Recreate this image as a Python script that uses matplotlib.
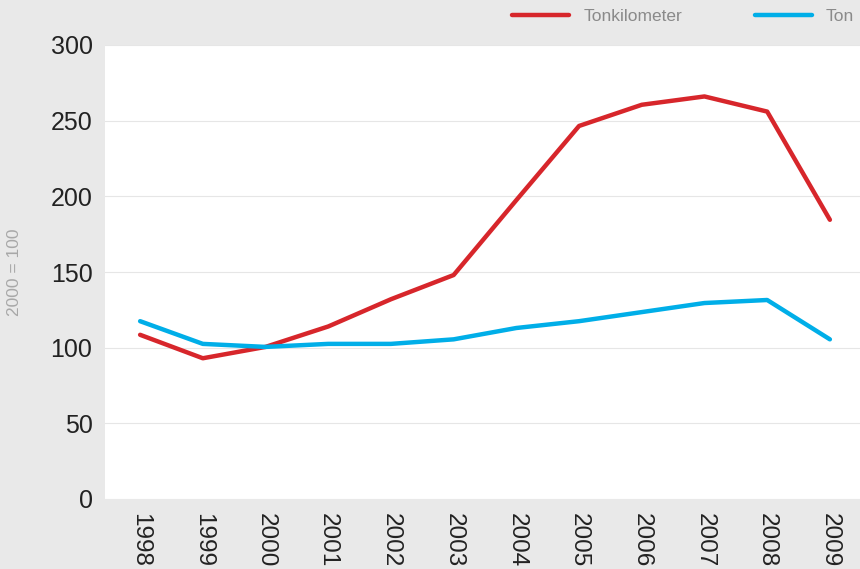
import matplotlib
matplotlib.use("Agg")
import matplotlib.pyplot as plt
import numpy as np

plt.rcParams['font.family'] = ['Liberation Sans', 'DejaVu Sans']

years = ['1998', '1999', '2000', '2001', '2002', '2003', '2004', '2005', '2006', '2007', '2008', '2009']
tonkm = [108.5, 93, 100.5, 114, 132, 148, 197.5, 246.5, 260.5, 266, 256, 184.5]
ton = [117.5, 102.5, 100.5, 102.5, 102.5, 105.5, 113, 117.5, 123.5, 129.5, 131.5, 105.5]

bg = '#e9e9e9'
fig = plt.figure(figsize=(8.6, 5.69), dpi=100, facecolor=bg)
ax = fig.add_axes([105/860, 1-499/569, 760/860, 454/569])
ax.set_facecolor('white')

x = np.arange(len(years))
l1, = ax.plot(x, tonkm, color='#d7262b', lw=3.2, solid_capstyle='round', label='Tonkilometer')
l2, = ax.plot(x, ton, color='#00aee8', lw=3.2, solid_capstyle='round', label='Ton')

ax.set_ylim(0, 300)
ax.set_xlim(-0.56, 11.56)
ax.set_yticks(range(0, 301, 50))
ax.set_xticks(x)
ax.set_xticklabels(years, rotation=-90, fontsize=17.5, color='#222222')
ax.tick_params(axis='y', labelsize=18, colors='#222222', length=0, pad=9)
ax.tick_params(axis='x', length=0, pad=10)
ax.grid(axis='y', color='#e6e6e6', lw=0.8)
ax.set_axisbelow(True)
for s in ax.spines.values():
    s.set_visible(False)

fig.text(15/860, 1-272/569, '2000 = 100', rotation=90, va='center', ha='center',
         fontsize=12.5, color='#a8a8a8')

leg = fig.legend(handles=[l1, l2], loc='center left', bbox_to_anchor=(505/860, 1-16/569),
                 ncol=2, frameon=False, fontsize=12.5, handlelength=3.3,
                 columnspacing=4.2, handletextpad=0.8, borderaxespad=0)
for t in leg.get_texts():
    t.set_color('#8a8a8a')

fig.savefig('out.png', dpi=100, facecolor=bg)
